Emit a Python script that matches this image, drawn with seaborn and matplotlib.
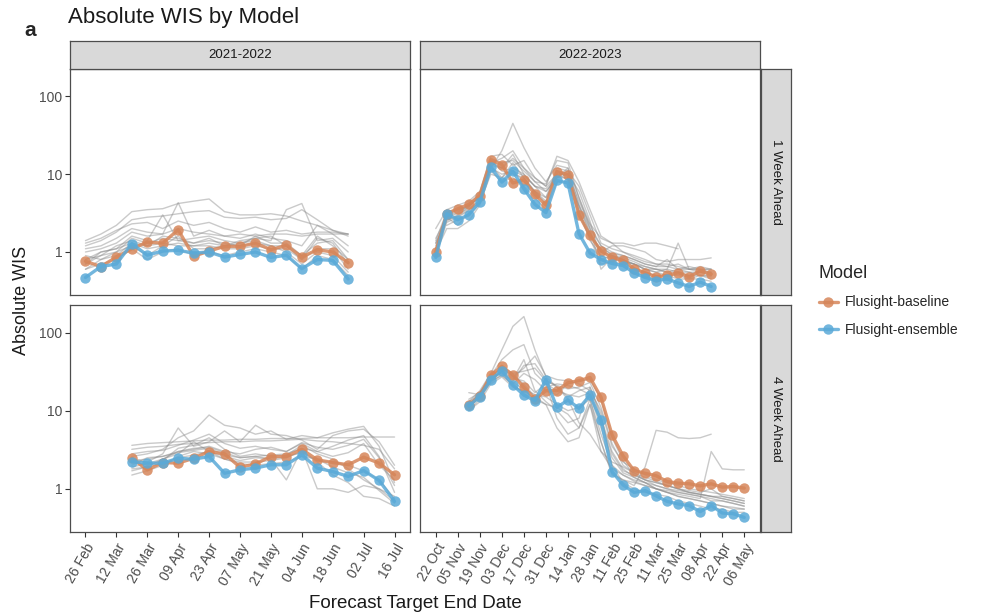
import matplotlib
matplotlib.use('Agg')
import matplotlib.pyplot as plt
from matplotlib.lines import Line2D
from matplotlib.ticker import NullLocator
import numpy as np
import pandas as pd
import seaborn as sns

nan = np.nan

seasons = ['2021-2022', '2022-2023']
horizons = ['1 Week Ahead', '4 Week Ahead']
highlight = ['Flusight-baseline', 'Flusight-ensemble']
palette = {'Flusight-baseline': '#D6865A', 'Flusight-ensemble': '#5AAAD8'}

# weekly target end dates for each facet
dates_21_h1 = pd.date_range('2022-02-26', periods=18, freq='7D')
dates_21_h4 = pd.date_range('2022-03-19', periods=18, freq='7D')
dates_22_h1 = pd.date_range('2022-10-22', periods=26, freq='7D')
dates_22_h4 = pd.date_range('2022-11-12', periods=26, freq='7D')

# 2021-2022, 1 week ahead
base_21_h1 = [0.76, 0.65, 0.86, 1.10, 1.34, 1.30, 1.93, 0.88, 1.03, 1.18, 1.18, 1.30, 1.07, 1.22, 0.86, 1.07, 1.00, 0.73]
ens_21_h1 = [0.47, 0.65, 0.70, 1.28, 0.91, 1.03, 1.05, 0.97, 1.00, 0.86, 0.93, 1.00, 0.85, 0.91, 0.61, 0.80, 0.78, 0.45]
others_21_h1 = [
    [1.4, 1.7, 2.2, 3.3, 3.5, 3.6, 4.2, 4.5, 4.8, 3.3, 3.0, 3.0, 3.1, 2.9, 2.5, 2.2, 1.9, 1.7],
    [1.2, 1.4, 1.8, 2.6, 2.8, 2.9, 3.1, 3.3, 3.4, 2.8, 2.7, 2.8, 2.6, 2.7, 3.5, 2.6, 1.9, 1.6],
    [1.0, 1.1, 1.3, 1.8, 1.6, 1.7, 4.3, 1.6, 1.9, 1.6, 1.5, 1.7, 1.5, 1.4, 1.2, 2.2, 1.7, 1.2],
    [0.8, 1.0, 1.1, 1.6, 1.4, 3.0, 1.4, 1.5, 1.6, 1.4, 1.3, 1.5, 1.4, 3.5, 4.2, 1.4, 1.5, 1.0],
    [0.7, 0.9, 1.0, 1.5, 1.3, 1.5, 1.4, 1.3, 1.4, 1.3, 1.2, 1.6, 1.3, 1.3, 0.9, 1.6, 1.2, 0.8],
    [0.6, 0.8, 0.9, 1.3, 1.1, 1.2, 1.3, 1.2, 1.2, 1.1, 1.1, 1.2, 1.1, 1.1, 0.8, 1.1, 1.1, 0.6],
    [0.9, 0.8, 1.0, 1.2, 0.9, 1.2, 1.6, 1.1, 1.1, 1.2, 1.3, 1.4, 1.2, 1.0, 0.7, 1.0, 0.9, 0.55],
    [1.1, 1.2, 1.5, 2.0, 1.8, 1.7, 2.0, 1.8, 1.7, 1.6, 1.7, 1.6, 1.7, 1.7, 1.6, 1.7, 1.7, 1.7],
    [0.6, 0.7, 0.8, 1.1, 0.8, 1.0, 1.1, 0.9, 1.0, 0.9, 1.0, 1.1, 1.0, 0.9, 0.6, 0.9, 0.8, 0.5],
    [0.8, 0.9, 1.2, 1.4, 1.2, 1.6, 1.5, 1.3, 1.5, 1.2, 1.4, 1.5, 1.6, 1.2, 0.9, 1.3, 1.4, 0.8],
    [0.7, 1.0, 1.1, 1.3, 1.2, 1.3, 1.2, 1.2, 1.3, 1.2, 1.2, 1.3, 1.2, 1.2, 0.8, 1.5, 1.3, 0.7],
    [1.3, 1.5, 1.9, 2.3, 2.4, 2.0, 2.5, 2.2, 2.4, 2.0, 1.8, 2.1, 1.8, 1.9, 1.7, 1.8, 1.8, 1.7],
]

# 2021-2022, 4 week ahead
base_21_h4 = [2.46, 1.75, 2.17, 2.13, 2.46, 3.0, 2.8, 1.89, 2.08, 2.59, 2.59, 3.2, 2.35, 2.17, 2.03, 2.54, 2.13, 1.51]
ens_21_h4 = [2.23, 2.13, 2.13, 2.46, 2.39, 2.59, 1.58, 1.75, 1.84, 2.03, 2.03, 2.72, 1.84, 1.66, 1.44, 1.71, 1.28, 0.69]
others_21_h4 = [
    [3.6, 3.8, 3.9, 4.0, 4.1, 4.2, 4.2, 4.3, 4.3, 4.4, 4.4, 4.4, 4.5, 4.5, 4.5, 4.6, 4.6, 4.6],
    [3.2, 3.4, 3.5, 3.7, 3.8, 3.9, 4.0, 4.0, 4.1, 4.1, 4.2, 4.3, 4.1, 4.0, 3.8, 3.6, 3.2, 1.8],
    [2.6, 2.8, 3.2, 4.5, 5.5, 8.8, 6.5, 6.0, 5.0, 5.5, 4.3, 4.8, 4.5, 5.2, 5.8, 6.3, 3.5, 1.2],
    [2.4, 2.2, 2.8, 6.0, 3.5, 4.0, 5.5, 4.0, 6.5, 5.0, 4.8, 4.2, 3.2, 4.8, 5.5, 5.8, 4.0, 2.0],
    [2.0, 2.5, 2.6, 3.0, 3.2, 3.5, 3.0, 2.8, 3.2, 3.4, 3.0, 3.8, 3.0, 3.5, 4.2, 4.8, 2.6, 0.9],
    [1.8, 1.9, 2.4, 2.8, 4.0, 3.0, 2.6, 2.3, 2.5, 2.4, 1.3, 3.2, 1.0, 1.0, 0.9, 1.1, 1.0, 0.7],
    [1.5, 1.7, 2.0, 2.6, 3.0, 2.8, 2.4, 2.2, 2.2, 2.3, 2.5, 3.0, 2.2, 1.5, 1.2, 0.8, 0.75, 0.6],
    [2.2, 2.0, 2.3, 3.3, 3.6, 4.5, 3.2, 2.6, 2.8, 2.6, 2.7, 3.6, 2.8, 2.4, 1.8, 1.3, 1.0, 0.8],
    [1.7, 1.9, 2.1, 2.5, 2.7, 3.0, 2.4, 2.1, 2.0, 2.1, 2.2, 2.6, 2.4, 1.9, 1.6, 1.4, 0.95, 0.65],
    [2.8, 3.0, 3.1, 3.6, 4.2, 5.0, 3.8, 3.3, 3.5, 3.2, 3.0, 3.9, 3.4, 3.2, 3.6, 4.3, 2.5, 1.1],
    [1.9, 2.1, 2.4, 3.0, 3.3, 3.4, 2.9, 2.5, 2.6, 2.4, 2.6, 2.9, 2.3, 2.2, 2.0, 1.7, 1.3, 0.75],
    [2.3, 2.4, 2.6, 2.9, 3.1, 3.3, 2.7, 2.5, 2.6, 2.7, 2.8, 3.3, 3.0, 2.6, 2.9, 3.8, 2.0, 1.3],
]

# 2022-2023, 1 week ahead
base_22_h1 = [1.0, 3.1, 3.6, 4.1, 5.3, 15.3, 13.3, 7.7, 8.5, 5.5, 4.0, 10.8, 9.9, 3.0, 1.64, 1.03,
              0.85, 0.78, 0.61, 0.54, 0.48, 0.50, 0.54, 0.48, 0.57, 0.52]
ens_22_h1 = [0.85, 3.1, 2.6, 3.0, 4.4, 12.3, 7.9, 10.9, 6.5, 4.1, 3.2, 8.3, 7.7, 1.72, 0.97, 0.80,
             0.71, 0.67, 0.54, 0.47, 0.43, 0.45, 0.40, 0.36, 0.41, 0.36]
others_22_h1 = [
    [1.3, 2.5, 3.0, 3.8, 5.5, 12, 20, 45, 22, 12, 8, 13, 12, 5, 2.0, 1.2, 0.9, 0.8, 0.7, 0.65, 0.6, 0.6, 0.55, 0.55, 0.5, 0.5],
    [2.0, 3.5, 4.0, 4.5, 6.0, 17, 18, 13, 15, 9, 7, 17, 15, 8, 3.5, 1.6, 1.3, 1.3, 1.2, 1.3, 1.3, 1.2, 1.1, nan, nan, nan],
    [1.5, 2.8, 2.2, 3.2, 4.5, 14, 16, 20, 12, 8, 6, 9, 12, 4, 1.8, 1.0, 1.2, 1.2, 1.1, 1.0, 0.8, 0.75, 0.8, 0.8, 0.8, 0.84],
    [0.9, 2.4, 2.8, 3.4, 4.8, 13, 9, 14, 9, 6, 5, 9, 10, 6, 2.5, 0.8, 0.9, 0.8, 0.7, 0.6, 0.55, 0.6, 1.3, 0.6, 0.6, 0.55],
    [1.1, 3.2, 3.4, 3.9, 5.0, 14, 12, 18, 10, 7, 6.5, 9.5, 11, 3.5, 1.4, 0.9, 0.8, 0.75, 0.7, 0.6, 0.6, 0.55, 0.55, 0.5, 0.5, 0.48],
    [1.0, 2.0, 2.0, 2.5, 4.0, 11, 8, 9, 7, 5, 3.5, 8, 8, 3, 1.5, 0.7, 0.75, 0.7, 0.6, 0.55, 0.5, 0.5, 0.45, 0.45, 0.5, 0.45],
    [1.2, 3.0, 3.3, 3.8, 5.2, 15, 11, 10, 9, 6, 4.5, 11, 9, 3.2, 1.6, 1.1, 0.95, 0.9, 0.8, 0.7, 0.65, 0.8, 0.6, 0.65, 0.6, 0.6],
    [0.95, 2.8, 3.1, 3.6, 4.6, 12, 10, 11, 8, 6, 4.2, 10, 8.5, 4, 2.0, 0.6, 0.85, 0.75, 0.7, 0.6, 0.55, 0.5, 0.5, 0.45, 0.45, 0.42],
    [1.4, 3.3, 3.5, 4.0, 5.8, 16, 14, 15, 11, 8, 7.5, 15, 14, 5, 2.3, 1.5, 1.3, 1.0, 0.9, 0.8, 0.7, 0.65, 0.7, 0.6, 0.6, 0.6],
    [1.1, 2.6, 2.9, 3.5, 4.3, 10, 9, 12, 10, 7, 5, 12, 11, 7, 3.0, 1.3, 1.1, 1.0, 0.85, 0.75, 0.7, 0.7, 0.65, 0.6, 0.65, 0.6],
    [nan, 2.2, 2.6, 3.0, 4.2, 13, 12, 11, 9.5, 7, 6, 9, 9, 3.8, 1.7, 1.0, 0.9, 0.85, 0.75, 0.65, 0.6, 0.55, 0.6, 0.55, 0.55, 0.5],
    [1.3, 2.9, 3.2, 4.0, 5.0, 15, 12, 16, 12, 9, 7, 10, 10, 4.5, 2.2, 1.2, 1.0, 0.9, 0.8, 0.7, 0.65, 0.65, 0.6, 0.6, 0.55, 0.55],
]

# 2022-2023, 4 week ahead
base_22_h4 = [11.8, 15.4, 28.5, 37, 28.5, 19.9, 14.0, 18.0, 18.0, 22.8, 24.2, 26.6, 14.8, 4.9, 2.64, 1.71,
              1.58, 1.47, 1.24, 1.18, 1.16, 1.09, 1.16, 1.05, 1.07, 1.02]
ens_22_h4 = [11.5, 15.1, 25, 32.4, 21.3, 15.8, 13.4, 25, 11.0, 13.7, 10.7, 15.8, 7.5, 1.66, 1.12, 0.90,
             0.95, 0.81, 0.69, 0.64, 0.61, 0.51, 0.61, 0.49, 0.48, 0.43]
others_22_h4 = [
    [13, 18, 30, 60, 120, 160, 60, 27, 20, 14, 7, 5, 3.0, 2.2, 1.9, 1.6, 1.3, 1.2, 1.1, 1.0, 0.9, 0.85, 0.8, 0.75, 0.7, 0.65],
    [12, 16, 28, 45, 60, 70, 30, 22, 8, 5, 6, 12, 4, 1.5, 1.3, 1.1, 1.9, 5.6, 5.3, 4.5, 4.4, 4.5, 5.0, nan, nan, nan],
    [11, 17, 26, 30, 24, 38, 40, 25, 20, 15, 18, 20, 8, 3, 1.8, 1.4, 1.2, 1.0, 0.9, 0.85, 0.8, 0.75, 3.0, 1.8, 1.75, 1.75],
    [10, 14, 24, 28, 22, 30, 25, 18, 16, 22, 24, 25, 14, 4.5, 2.3, 1.5, 1.3, 1.1, 1.0, 0.9, 0.85, 0.8, 0.75, 0.7, 0.65, 0.6],
    [17, 16, 25, 32, 25, 45, 18, 13, 10, 7, 8, 20, 9, 2.0, 1.2, 1.0, 0.9, 0.85, 0.8, 0.7, 0.65, 0.6, 0.55, 0.55, 0.5, 0.5],
    [12, 15, 27, 35, 28, 22, 15, 12, 11, 9, 6, 14, 4, 1.6, 1.3, 1.2, 1.1, 1.0, 0.9, 0.8, 0.75, 0.7, 0.65, 0.6, 0.55, 0.55],
    [11, 15, 23, 29, 21, 17, 13, 20, 22, 21, 19, 16, 6, 2.5, 1.6, 1.4, 1.2, 1.0, 0.95, 0.9, 0.85, 0.8, 0.7, 0.7, 0.65, 0.6],
    [10, 13, 22, 27, 20, 18, 14, 12, 6, 4, 4.5, 12, 3, 1.8, 1.5, 1.3, 1.2, 1.1, 1.0, 0.95, 0.9, 0.85, 0.8, 0.75, 0.7, 0.65],
    [12, 17, 29, 34, 27, 35, 50, 28, 25, 24, 22, 18, 10, 3.5, 2.2, 1.8, 1.5, 1.3, 1.2, 1.1, 1.0, 0.95, 0.9, 0.85, 0.8, 0.75],
    [13, 16, 26, 31, 23, 19, 16, 15, 12, 10, 11, 14, 5, 2.0, 1.5, 1.25, 1.1, 1.0, 0.9, 0.8, 0.75, 0.7, 0.65, 0.6, 0.58, 0.55],
    [11, 15, 25, 33, 26, 24, 17, 22, 18, 16, 15, 17, 7, 2.8, 1.7, 1.5, 1.3, 1.2, 1.1, 1.0, 0.9, 0.85, 0.8, 0.8, 0.75, 0.7],
    [14, 17, 27, 36, 30, 32, 35, 24, 21, 19, 20, 23, 11, 3.8, 2.0, 1.6, 1.4, 1.25, 1.1, 1.0, 0.95, 0.9, 1.0, 0.8, 0.75, 0.7],
]

facets = {
    ('2021-2022', '1 Week Ahead'): (dates_21_h1, base_21_h1, ens_21_h1, others_21_h1),
    ('2021-2022', '4 Week Ahead'): (dates_21_h4, base_21_h4, ens_21_h4, others_21_h4),
    ('2022-2023', '1 Week Ahead'): (dates_22_h1, base_22_h1, ens_22_h1, others_22_h1),
    ('2022-2023', '4 Week Ahead'): (dates_22_h4, base_22_h4, ens_22_h4, others_22_h4),
}

rows = []
for (season, horizon), (dates, base, ens, others) in facets.items():
    series = {'Flusight-baseline': base, 'Flusight-ensemble': ens}
    for i, vals in enumerate(others):
        series[f'model-{i + 1:02d}'] = vals
    for model, vals in series.items():
        for d, v in zip(dates, vals):
            rows.append({'season': season, 'horizon': horizon, 'date': d,
                         'model': model, 'wis': v})
df = pd.DataFrame(rows).dropna()

xlims = {'2021-2022': (pd.Timestamp('2022-02-19'), pd.Timestamp('2022-07-23')),
         '2022-2023': (pd.Timestamp('2022-10-12'), pd.Timestamp('2023-05-16'))}
xticks = {'2021-2022': pd.date_range('2022-02-26', '2022-07-16', freq='14D'),
          '2022-2023': pd.date_range('2022-10-22', '2023-05-06', freq='14D')}

sns.set_theme(style='white')
plt.rcParams['font.family'] = ['Liberation Sans', 'DejaVu Sans']

W, H = 982, 616
fig = plt.figure(figsize=(W / 100, H / 100), dpi=100)

def box(x0, y0, x1, y1):
    # pixel box (top-left origin) -> figure fraction rect
    return [x0 / W, 1 - y1 / H, (x1 - x0) / W, (y1 - y0) / H]

col_x = [(70, 410), (420, 760)]
row_y = [(69, 295), (305, 532)]
edge = '#4d4d4d'

for r, horizon in enumerate(horizons):
    for c, season in enumerate(seasons):
        ax = fig.add_axes(box(col_x[c][0], row_y[r][0], col_x[c][1], row_y[r][1]))
        sub = df[(df['season'] == season) & (df['horizon'] == horizon)]
        grey = sub[~sub['model'].isin(highlight)]
        main = sub[sub['model'].isin(highlight)]
        sns.lineplot(data=grey, x='date', y='wis', units='model', estimator=None,
                     color='#8a8a8a', alpha=0.45, linewidth=1.0, legend=False, ax=ax)
        sns.lineplot(data=main, x='date', y='wis', hue='model', hue_order=highlight,
                     palette=palette, estimator=None, marker='o', markersize=7.5,
                     markeredgewidth=0, linewidth=2.4, alpha=0.85, legend=False, ax=ax)
        ax.set_yscale('log')
        ax.set_ylim(0.28, 225)
        ax.set_xlim(*xlims[season])
        ax.set_yticks([1, 10, 100])
        ax.set_yticklabels(['1', '10', '100'])
        ax.yaxis.set_minor_locator(NullLocator())
        ax.set_xticks(xticks[season])
        ax.set_xlabel('')
        ax.set_ylabel('')
        for s in ax.spines.values():
            s.set_color(edge)
            s.set_linewidth(0.9)
        ax.tick_params(axis='both', length=3.5, width=0.8, color='#333333',
                       labelcolor='#4d4d4d', labelsize=10, pad=2)
        if r == 1:
            ax.set_xticklabels([d.strftime('%d %b') for d in xticks[season]],
                               rotation=60, ha='right', rotation_mode='anchor')
            ax.tick_params(axis='x', bottom=True, pad=3)
        else:
            ax.tick_params(axis='x', bottom=False, labelbottom=False)
        if c == 0:
            ax.tick_params(axis='y', left=True)
        else:
            ax.tick_params(axis='y', left=False, labelleft=False)

# strips
for c, season in enumerate(seasons):
    sax = fig.add_axes(box(col_x[c][0], 41, col_x[c][1], 69))
    sax.set_facecolor('#d9d9d9')
    sax.set_xticks([]); sax.set_yticks([])
    for s in sax.spines.values():
        s.set_color(edge); s.set_linewidth(0.9)
    sax.text(0.5, 0.5, season, ha='center', va='center', fontsize=9.5, color='#1a1a1a',
             transform=sax.transAxes)
for r, horizon in enumerate(horizons):
    sax = fig.add_axes(box(761, row_y[r][0], 791, row_y[r][1]))
    sax.set_facecolor('#d9d9d9')
    sax.set_xticks([]); sax.set_yticks([])
    for s in sax.spines.values():
        s.set_color(edge); s.set_linewidth(0.9)
    sax.text(0.5, 0.5, horizon, ha='center', va='center', fontsize=9.5, color='#1a1a1a',
             rotation=270, transform=sax.transAxes)

fig.text(68 / W, 1 - 18 / H, 'Absolute WIS by Model', fontsize=16, va='center', ha='left',
         color='#1a1a1a')
fig.text(24 / W, 1 - 31 / H, 'a', fontsize=15, fontweight='bold', va='center', ha='left')
fig.text(22 / W, 1 - 300 / H, 'Absolute WIS', fontsize=13, rotation=90, va='center',
         ha='center', color='#1a1a1a')
fig.text(415 / W, 1 - 603 / H, 'Forecast Target End Date', fontsize=13.5, va='center',
         ha='center', color='#1a1a1a')

handles = [Line2D([0], [0], color=palette[m], lw=2.4, marker='o', markersize=7.5,
                  markeredgewidth=0, alpha=0.85) for m in highlight]
leg = fig.legend(handles, highlight, title='Model', loc='upper left',
                 bbox_to_anchor=(806 / W, 1 - 252 / H), frameon=False, fontsize=10,
                 title_fontsize=13, handlelength=1.4, labelspacing=1.0, handletextpad=0.5)
leg._legend_box.align = 'left'

fig.savefig('out.png', dpi=100)
